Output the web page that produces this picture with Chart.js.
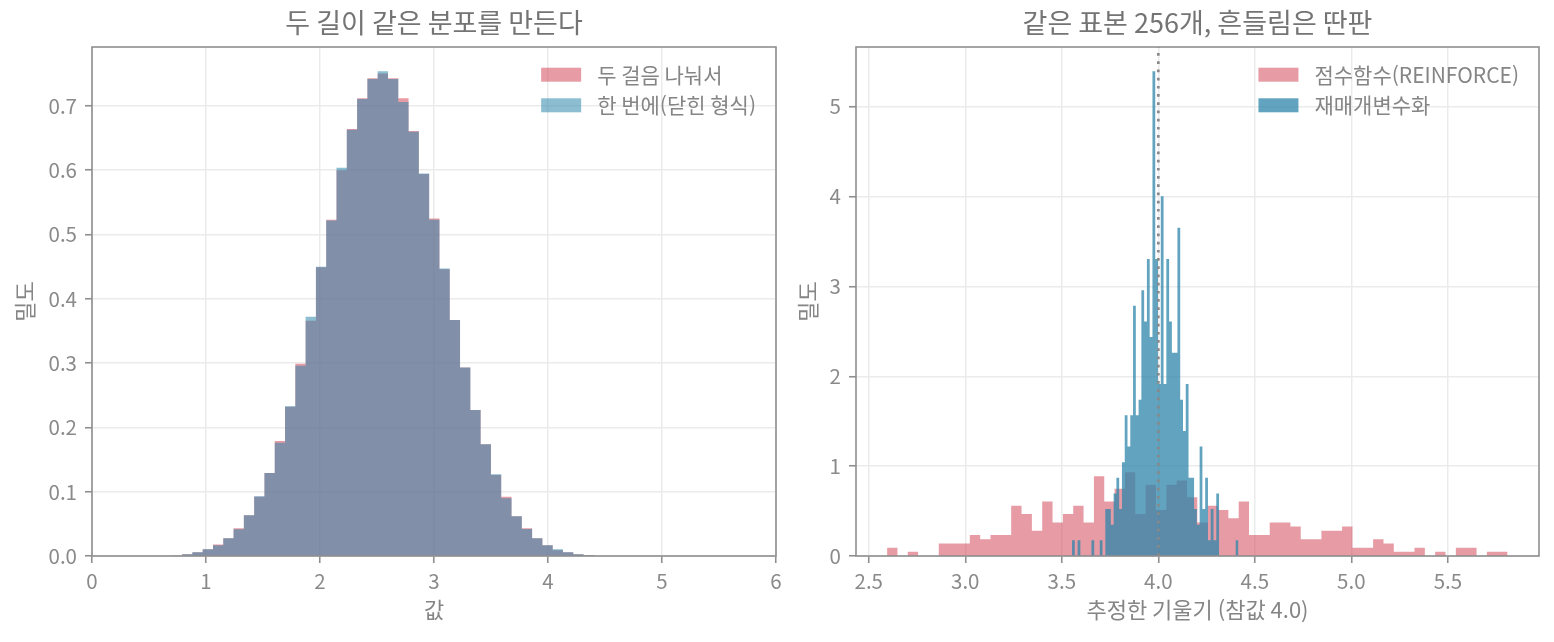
<!DOCTYPE html>
<html lang="ko">
<head>
<meta charset="utf-8">
<title>두 길이 같은 분포 / 기울기 추정의 흔들림</title>
<script src="https://cdn.jsdelivr.net/npm/chart.js@4.4.1/dist/chart.umd.min.js"></script>
<style>
  html, body { margin: 0; padding: 0; background: #fff; overflow: hidden; }
  .panel { position: absolute; top: 0; height: 642px; }
  #leftPanel  { left: 0;     width: 790px; }
  #rightPanel { left: 780px; width: 774px; }
</style>
</head>
<body>
<div class="panel" id="leftPanel"><canvas id="leftChart"></canvas></div>
<div class="panel" id="rightPanel"><canvas id="rightChart"></canvas></div>
<script>
/* ── Data ─────────────────────────────────────────────── */

// Left panel: two ways to build the same distribution (density per bin)
const leftBinStart = 0.70;
const leftBinWidth = 0.0903;
const twoStepDensity = [
  0.0005, 0.0026, 0.0057, 0.0104, 0.018, 0.0275, 0.043, 0.0634, 0.092, 0.129,
  0.179, 0.232, 0.299, 0.366, 0.449, 0.523, 0.600, 0.664, 0.712, 0.743,
  0.7505, 0.743, 0.712, 0.661, 0.594, 0.525, 0.446, 0.367, 0.293, 0.227,
  0.174, 0.126, 0.092, 0.062, 0.043, 0.0275, 0.0166, 0.009, 0.0057, 0.0026,
  0.001,
];
const closedFormDensity = [
  0.0005, 0.0026, 0.0057, 0.0104, 0.0166, 0.0275, 0.0416, 0.0634, 0.093, 0.129,
  0.176, 0.233, 0.296, 0.372, 0.450, 0.522, 0.604, 0.663, 0.711, 0.742,
  0.754, 0.742, 0.706, 0.660, 0.595, 0.523, 0.447, 0.367, 0.293, 0.227,
  0.174, 0.127, 0.090, 0.062, 0.042, 0.0275, 0.0166, 0.0104, 0.0057, 0.0026,
  0.001,
];
const leftXTicks = [0, 1, 2, 3, 4, 5, 6];
const leftYTicks = [0, 0.1, 0.2, 0.3, 0.4, 0.5, 0.6, 0.7];

// Right panel: slope estimates, score function vs reparameterisation
const scoreBinStart = 2.595;
const scoreBinWidth = 0.05357;
const scoreDensity = [
  0.093, 0, 0.047, 0, 0, 0.140, 0.140, 0.140, 0.233, 0.187,
  0.233, 0.233, 0.560, 0.467, 0.280, 0.607, 0.373, 0.467, 0.560, 0.373,
  0.887, 0.607, 0.747, 0.933, 0.467, 0.793, 0.513, 0.793, 0.840, 0.653,
  0.373, 0.560, 0.513, 0.420, 0.607, 0.233, 0.233, 0.373, 0.373, 0.327,
  0.187, 0.187, 0.280, 0.280, 0.327, 0.093, 0.093, 0.187, 0.140, 0.047,
  0.047, 0.093, 0, 0.047, 0, 0.093, 0.093, 0, 0.047, 0.047,
];
const reparamBinStart = 3.553;
const reparamBinWidth = 0.01437;
const reparamDensity = [
  0.174, 0, 0.174, 0, 0, 0, 0, 0.174, 0, 0,
  0.174, 0, 0.522, 0.522, 0.348, 0.696, 0.870, 0.522, 1.044, 1.566,
  1.218, 1.566, 2.784, 1.566, 1.740, 2.958, 2.610, 3.306, 2.436, 5.394,
  3.306, 1.914, 4.002, 1.914, 3.306, 2.610, 2.262, 2.262, 3.654, 1.740,
  1.392, 1.914, 0.870, 0.870, 0.522, 0.348, 1.218, 0.522, 0.870, 0.174,
  0.522, 0.174, 0.696, 0, 0, 0, 0, 0, 0, 0.174,
];
const trueSlope = 4.0;
const rightXTicks = [2.5, 3.0, 3.5, 4.0, 4.5, 5.0, 5.5];
const rightYTicks = [0, 1, 2, 3, 4, 5];

/* ── Style ────────────────────────────────────────────── */
const FONT   = "'Noto Sans CJK KR', 'Noto Sans', sans-serif";
const RED    = 'rgba(209,73,91,0.55)';
const BLUE   = 'rgba(46,134,171,0.55)';
const BLUE_S = 'rgba(46,134,171,0.75)';
const GRID   = '#ebebeb';
const SPINE  = '#8f8f8f';
const TICK   = '#8a8a8a';
const LABEL  = '#858585';
const TITLE  = '#747474';
const FS     = 20.5;   // tick labels
const FS_AX  = 22;     // axis titles
const FS_LEG = 21;     // legend

Chart.defaults.font.family = FONT;
Chart.defaults.animation = false;

// Histogram -> stepped outline: one point per left bin edge, closed at the last edge
function histPoints(start, width, values) {
  const pts = values.map((v, i) => ({ x: start + i * width, y: v }));
  pts.push({ x: start + values.length * width, y: 0 });
  return pts;
}

function histDataset(label, points, color, order) {
  return {
    label,
    data: points,
    backgroundColor: color,
    borderWidth: 0,
    pointRadius: 0,
    stepped: true,
    fill: 'origin',
    order,
  };
}

// ── Plugins: matplotlib-like frame, centred title, legend inside the axes ──
const axesFrame = {
  id: 'axesFrame',
  afterLayout(chart) {
    const t = chart.titleBlock, a = chart.chartArea;
    if (t) { t.left = a.left; t.right = a.right; t.width = a.right - a.left; }
  },
  afterDatasetsDraw(chart) {
    const { ctx, chartArea: a } = chart;
    ctx.save();
    ctx.strokeStyle = SPINE;
    ctx.lineWidth = 1.6;
    ctx.strokeRect(a.left, a.top, a.right - a.left, a.bottom - a.top);
    ctx.restore();
  },
};

const insideLegend = {
  id: 'insideLegend',
  afterDraw(chart) {
    const { ctx, chartArea: a } = chart;
    const items = chart.data.datasets.filter(ds => ds.label);
    ctx.save();
    ctx.font = `${FS_LEG}px ${FONT}`;
    const textW = Math.max(...items.map(ds => ctx.measureText(ds.label).width));
    const textX = a.right - 20 - textW;
    items.forEach((ds, i) => {
      const cy = a.top + 27.7 + i * 30.6;
      ctx.fillStyle = ds.backgroundColor;
      ctx.fillRect(textX - 16 - 40, cy - 7, 40, 14);
      ctx.fillStyle = LABEL;
      ctx.textAlign = 'left';
      ctx.textBaseline = 'middle';
      ctx.fillText(ds.label, textX, cy);
    });
    ctx.restore();
  },
};

function xScale(min, max, ticks, decimals, title) {
  return {
    type: 'linear', min, max,
    afterBuildTicks: s => { s.ticks = ticks.map(v => ({ value: v })); },
    afterFit: s => { s.height = 86; },
    grid: { color: GRID, lineWidth: 1.5, tickColor: SPINE, tickLength: 7, tickWidth: 1.6 },
    border: { display: false },
    ticks: {
      color: TICK, font: { size: FS }, padding: 6, maxRotation: 0, autoSkip: false,
      callback: v => Number(v).toFixed(decimals),
    },
    title: { display: true, text: title, color: LABEL, font: { size: FS_AX }, padding: { top: 0, bottom: 18.8 } },
  };
}

function yScale(max, ticks, decimals, width, titlePad) {
  return {
    type: 'linear', min: 0, max,
    afterBuildTicks: s => { s.ticks = ticks.map(v => ({ value: v })); },
    afterFit: s => { s.width = width; },
    grid: { color: GRID, lineWidth: 1.5, tickColor: SPINE, tickLength: 7, tickWidth: 1.6 },
    border: { display: false },
    ticks: {
      color: TICK, font: { size: FS }, padding: 8, autoSkip: false,
      callback: v => Number(v).toFixed(decimals),
    },
    title: { display: true, text: '밀도', color: LABEL, font: { size: FS_AX }, padding: { top: titlePad, bottom: 0 } },
  };
}

function baseOptions(title, rightPad, scales) {
  return {
    responsive: true,
    maintainAspectRatio: false,
    animation: false,
    events: [],
    layout: { padding: { left: 0, top: 0, right: rightPad, bottom: 0 } },
    plugins: {
      legend: { display: false },
      tooltip: { enabled: false },
      title: {
        display: true, text: title, color: TITLE,
        font: { size: 27, weight: 'normal' },
        padding: { top: 7, bottom: 7.6 },
      },
    },
    scales,
  };
}

// ── Left: same distribution two ways ──
new Chart(document.getElementById('leftChart'), {
  type: 'line',
  data: {
    datasets: [
      histDataset('두 걸음 나눠서', histPoints(leftBinStart, leftBinWidth, twoStepDensity), RED, 2),
      histDataset('한 번에(닫힌 형식)', histPoints(leftBinStart, leftBinWidth, closedFormDensity), BLUE, 1),
    ],
  },
  options: baseOptions('두 길이 같은 분포를 만든다', 14, {
    x: xScale(0, 6, leftXTicks, 0, '값'),
    y: yScale(0.7917, leftYTicks, 1, 92, 11.8),
  }),
  plugins: [axesFrame, insideLegend],
});

// ── Right: estimator spread ──
const rightYMax = 5.664;
new Chart(document.getElementById('rightChart'), {
  type: 'line',
  data: {
    datasets: [
      histDataset('점수함수(REINFORCE)', histPoints(scoreBinStart, scoreBinWidth, scoreDensity), RED, 2),
      histDataset('재매개변수화', histPoints(reparamBinStart, reparamBinWidth, reparamDensity), BLUE_S, 1),
      {
        data: [{ x: trueSlope, y: 0 }, { x: trueSlope, y: rightYMax }],
        borderColor: '#888888',
        borderWidth: 2.7,
        borderDash: [2.7, 5.5],
        borderCapStyle: 'butt',
        pointRadius: 0,
        fill: false,
        order: 0,
      },
    ],
  },
  options: baseOptions('같은 표본 256개, 흔들림은 딴판', 15, {
    x: xScale(2.434, 5.972, rightXTicks, 1, '추정한 기울기 (참값 4.0)'),
    y: yScale(rightYMax, rightYTicks, 0, 76, 14.8),
  }),
  plugins: [axesFrame, insideLegend],
});
</script>
</body>
</html>
